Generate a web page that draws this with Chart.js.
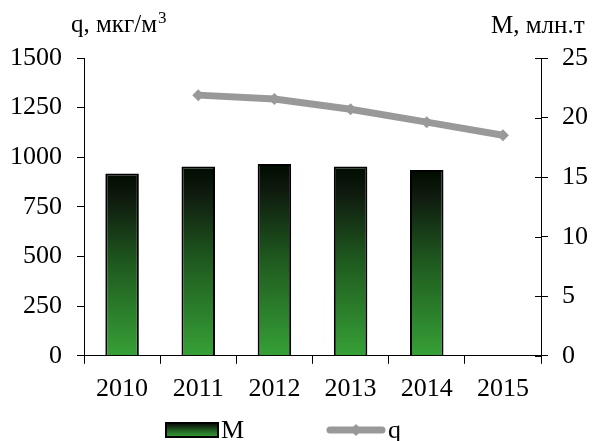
<!DOCTYPE html>
<html>
<head>
<meta charset="utf-8">
<script src="https://cdn.jsdelivr.net/npm/chart.js@4"></script>
<style>
  html, body { margin: 0; padding: 0; background: #fff; }
  #wrap { width: 592px; height: 441px; }
</style>
</head>
<body>
<div id="wrap"><canvas id="canvas" width="592" height="441"></canvas></div>
<script>
var years = ['2010', '2011', '2012', '2013', '2014', '2015'];
var massM = [15.3, 15.9, 16.1, 15.9, 15.6, null];
var concQ = [null, 1313, 1293, 1242, 1177, 1111];
var titleLeft = 'q, мкг/м';
var titleLeftSup = '3';
var titleRight = 'M, млн.т';

var FONT = 'Liberation Serif';

function barGradient(ctx, top, bottom) {
    var g = ctx.createLinearGradient(0, top, 0, bottom);
    g.addColorStop(0, '#000c00');
    g.addColorStop(0.15, '#0f1c0f');
    g.addColorStop(0.5, '#1f5a1f');
    g.addColorStop(1, '#36a036');
    return g;
}

function plainTick(value) {
    return String(value);
}

// axis titles and bottom legend
var extras = {
    id: 'extras',
    afterDraw: function(chart) {
        var ctx = chart.ctx;
        ctx.save();
        ctx.fillStyle = '#000';
        ctx.textBaseline = 'alphabetic';
        ctx.font = '25px ' + FONT;
        ctx.textAlign = 'left';
        ctx.fillText(titleLeft, 71, 32);
        var w = ctx.measureText(titleLeft).width;
        ctx.font = '17px ' + FONT;
        ctx.fillText(titleLeftSup, 71 + w + 1, 23);
        ctx.font = '25px ' + FONT;
        ctx.fillText(titleRight, 491, 33);

        // legend
        var y = 430;
        var mSet = chart.data.datasets[1];
        var qSet = chart.data.datasets[0];
        ctx.fillStyle = barGradient(ctx, y - 7, y + 7);
        ctx.fillRect(166, y - 7, 52, 14);
        ctx.strokeStyle = '#000';
        ctx.lineWidth = 2;
        ctx.strokeRect(166, y - 7, 52, 14);
        ctx.fillStyle = '#000';
        ctx.font = '26px ' + FONT;
        ctx.textBaseline = 'middle';
        ctx.fillText(mSet.label, 221, y + 1);

        ctx.strokeStyle = '#999';
        ctx.lineWidth = 7;
        ctx.lineCap = 'round';
        ctx.beginPath();
        ctx.moveTo(330, y);
        ctx.lineTo(382, y);
        ctx.stroke();
        ctx.fillStyle = '#999';
        ctx.beginPath();
        ctx.moveTo(356, y - 6);
        ctx.lineTo(362, y);
        ctx.lineTo(356, y + 6);
        ctx.lineTo(350, y);
        ctx.closePath();
        ctx.fill();
        ctx.fillStyle = '#000';
        ctx.fillText(qSet.label, 388, y + 1);

        // right axis tick marks cross the axis line
        var sc = chart.scales.yM;
        ctx.strokeStyle = '#000';
        ctx.lineWidth = 1;
        ctx.lineCap = 'butt';
        ctx.beginPath();
        sc.ticks.forEach(function(t) {
            var py = Math.round(sc.getPixelForValue(t.value)) + 0.5;
            ctx.moveTo(sc.left - 6, py);
            ctx.lineTo(sc.left, py);
        });
        ctx.stroke();
        ctx.restore();
    }
};

var config = {
    type: 'bar',
    data: {
        labels: years,
        datasets: [{
            type: 'line',
            label: 'q',
            data: concQ,
            yAxisID: 'y',
            borderColor: '#999999',
            backgroundColor: '#999999',
            borderWidth: 7,
            pointStyle: 'rectRot',
            pointRadius: 6,
            pointBackgroundColor: '#999999',
            pointBorderWidth: 0,
            tension: 0,
            order: 0
        }, {
            label: 'M',
            data: massM,
            yAxisID: 'yM',
            backgroundColor: function(context) {
                var chart = context.chart;
                var sc = chart.scales.yM;
                if (!chart.chartArea || !sc || context.raw == null) {
                    return '#2a7a2a';
                }
                var top = sc.getPixelForValue(context.raw);
                var bottom = sc.getPixelForValue(0);
                return barGradient(chart.ctx, top, bottom);
            },
            borderColor: '#000',
            borderWidth: 2,
            barPercentage: 0.44,
            categoryPercentage: 1,
            order: 1
        }]
    },
    options: {
        responsive: false,
        animation: false,
        layout: {
            padding: { top: 58, left: -5, right: -10, bottom: 26 }
        },
        plugins: {
            legend: { display: false },
            tooltip: { enabled: false }
        },
        scales: {
            x: {
                offset: true,
                grid: {
                    offset: true,
                    drawOnChartArea: false,
                    color: '#000',
                    tickLength: 8
                },
                border: { color: '#000', width: 1 },
                ticks: {
                    color: '#000',
                    font: { family: FONT, size: 26 },
                    padding: 10
                }
            },
            y: {
                position: 'left',
                min: 0,
                max: 1500,
                grid: {
                    drawOnChartArea: false,
                    color: '#000',
                    tickLength: 7
                },
                border: { color: '#000', width: 1 },
                ticks: {
                    stepSize: 250,
                    color: '#000',
                    font: { family: FONT, size: 26 },
                    padding: 15,
                    callback: plainTick
                }
            },
            yM: {
                position: 'right',
                min: 0,
                max: 25,
                grid: {
                    drawOnChartArea: false,
                    color: '#000',
                    tickLength: 7
                },
                border: { color: '#000', width: 1 },
                ticks: {
                    stepSize: 5,
                    color: '#000',
                    font: { family: FONT, size: 26 },
                    padding: 14,
                    callback: plainTick
                }
            }
        }
    },
    plugins: [extras]
};

new Chart(document.getElementById('canvas'), config);
</script>
</body>
</html>
